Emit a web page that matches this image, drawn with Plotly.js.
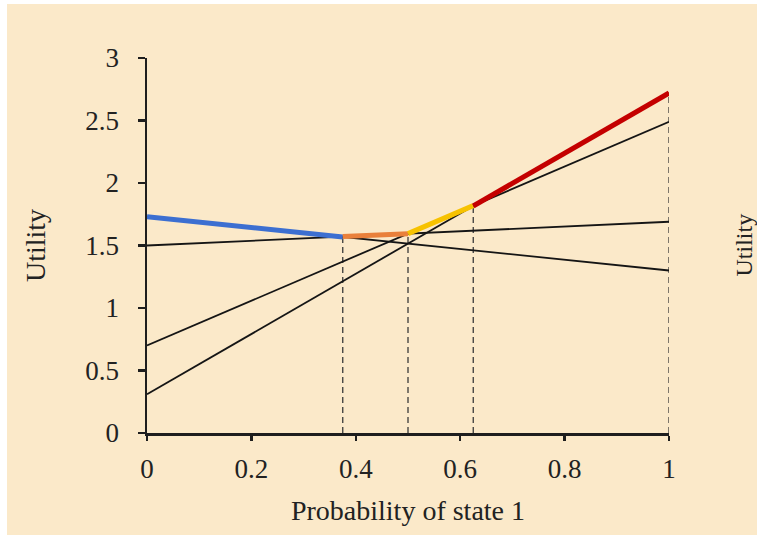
<!DOCTYPE html>
<html>
<head>
<meta charset="utf-8">
<script src="https://cdn.plot.ly/plotly-3.0.1.min.js"></script>
<style>html,body{margin:0;padding:0;background:#fff;}#chart{width:757px;height:535px;}</style>
</head>
<body>
<div id="chart"></div>
<script>
// ---- data ----
const xEnds = [0, 1];                       // belief: probability of state 1
const planA = [1.73, 1.30];                 // utility of plan A at p=0 and p=1
const planB = [1.50, 1.69];
const planC = [0.70, 2.49];
const planD = [0.31, 2.72];
const plans = [planA, planB, planC, planD];
const breakpoints = [0, 0.375, 0.5, 0.625, 1];  // where the optimal plan changes
const optimalPlanIdx = [0, 1, 2, 3];            // optimal plan per region
const envelopeColors = ['#3C6FD1', '#E9803B', '#F7C200', '#C40000'];
const xTicks = [0, 0.2, 0.4, 0.6, 0.8, 1];
const xTickText = ['0', '0.2', '0.4', '0.6', '0.8', '1'];
const yTicks = [0, 0.5, 1, 1.5, 2, 2.5, 3];
const yTickText = ['0', '0.5', '1', '1.5', '2', '2.5', '3'];

function planValue(plan, p) { return plan[0] + (plan[1] - plan[0]) * p; }
function envelope(p) { return Math.max.apply(null, plans.map(pl => planValue(pl, p))); }

const traces = [];
// dashed verticals at region boundaries
breakpoints.slice(1).forEach(b => {
  traces.push({x: [b, b], y: [0, envelope(b)], mode: 'lines', type: 'scatter',
    line: {color: '#3a3a3a', width: 1.3, dash: '6px,4px'}, hoverinfo: 'skip', showlegend: false});
});
// plan utility lines
plans.forEach(pl => {
  traces.push({x: xEnds, y: pl, mode: 'lines', type: 'scatter',
    line: {color: '#151515', width: 1.8}, hoverinfo: 'skip', showlegend: false});
});
// optimal (upper envelope) segments
for (let i = 0; i < breakpoints.length - 1; i++) {
  const pl = plans[optimalPlanIdx[i]];
  const x0 = breakpoints[i], x1 = breakpoints[i + 1];
  traces.push({x: [x0, x1], y: [planValue(pl, x0), planValue(pl, x1)], mode: 'lines', type: 'scatter',
    line: {color: envelopeColors[i], width: 5}, hoverinfo: 'skip', showlegend: false});
}

const tickFont = {family: 'Liberation Serif, Times New Roman, serif', size: 27, color: '#222222'};
const titleFont = {family: 'Liberation Serif, Times New Roman, serif', size: 28, color: '#222222'};

const layout = {
  width: 757, height: 535,
  margin: {l: 147, r: 88, t: 58, b: 102},
  paper_bgcolor: '#FBE9C9',
  plot_bgcolor: 'rgba(0,0,0,0)',
  xaxis: {range: [0, 1], tickvals: xTicks, ticktext: xTickText, showgrid: false, zeroline: false,
    showline: true, linecolor: '#1e1e1e', linewidth: 2.5, ticks: 'outside', ticklen: 5, tickwidth: 2.5,
    tickcolor: '#1e1e1e', tickfont: tickFont, ticklabelstandoff: 5,
    title: {text: 'Probability of state 1', font: titleFont, standoff: 18}},
  yaxis: {range: [0, 3], tickvals: yTicks, ticktext: yTickText, showgrid: false, zeroline: false,
    showline: true, linecolor: '#1e1e1e', linewidth: 2.5, ticks: 'outside', ticklen: 7, tickwidth: 2.5,
    tickcolor: '#1e1e1e', tickfont: tickFont, ticklabelstandoff: 13,
    title: {text: 'Utility', font: titleFont, standoff: 32}},
  annotations: [
    {xref: 'paper', yref: 'paper', x: (743 - 147) / 522, y: 0.5, text: 'Utility', textangle: -90,
     showarrow: false, font: {family: titleFont.family, size: 24, color: '#222222'},
     xanchor: 'center', yanchor: 'middle'}
  ],
  // white scan border on top and left
  shapes: [
    {type: 'rect', xref: 'paper', yref: 'paper', x0: -147/522, x1: (757-147)/522, y0: (433-4)/375, y1: (433+10)/375, fillcolor: '#ffffff', line: {width: 0}, layer: 'below'},
    {type: 'rect', xref: 'paper', yref: 'paper', x0: -147/522, x1: (7-147)/522, y0: -102/375, y1: 433/375, fillcolor: '#ffffff', line: {width: 0}, layer: 'below'}
  ],
  showlegend: false
};

Plotly.newPlot('chart', traces, layout, {displayModeBar: false, staticPlot: true});
</script>
</body>
</html>
